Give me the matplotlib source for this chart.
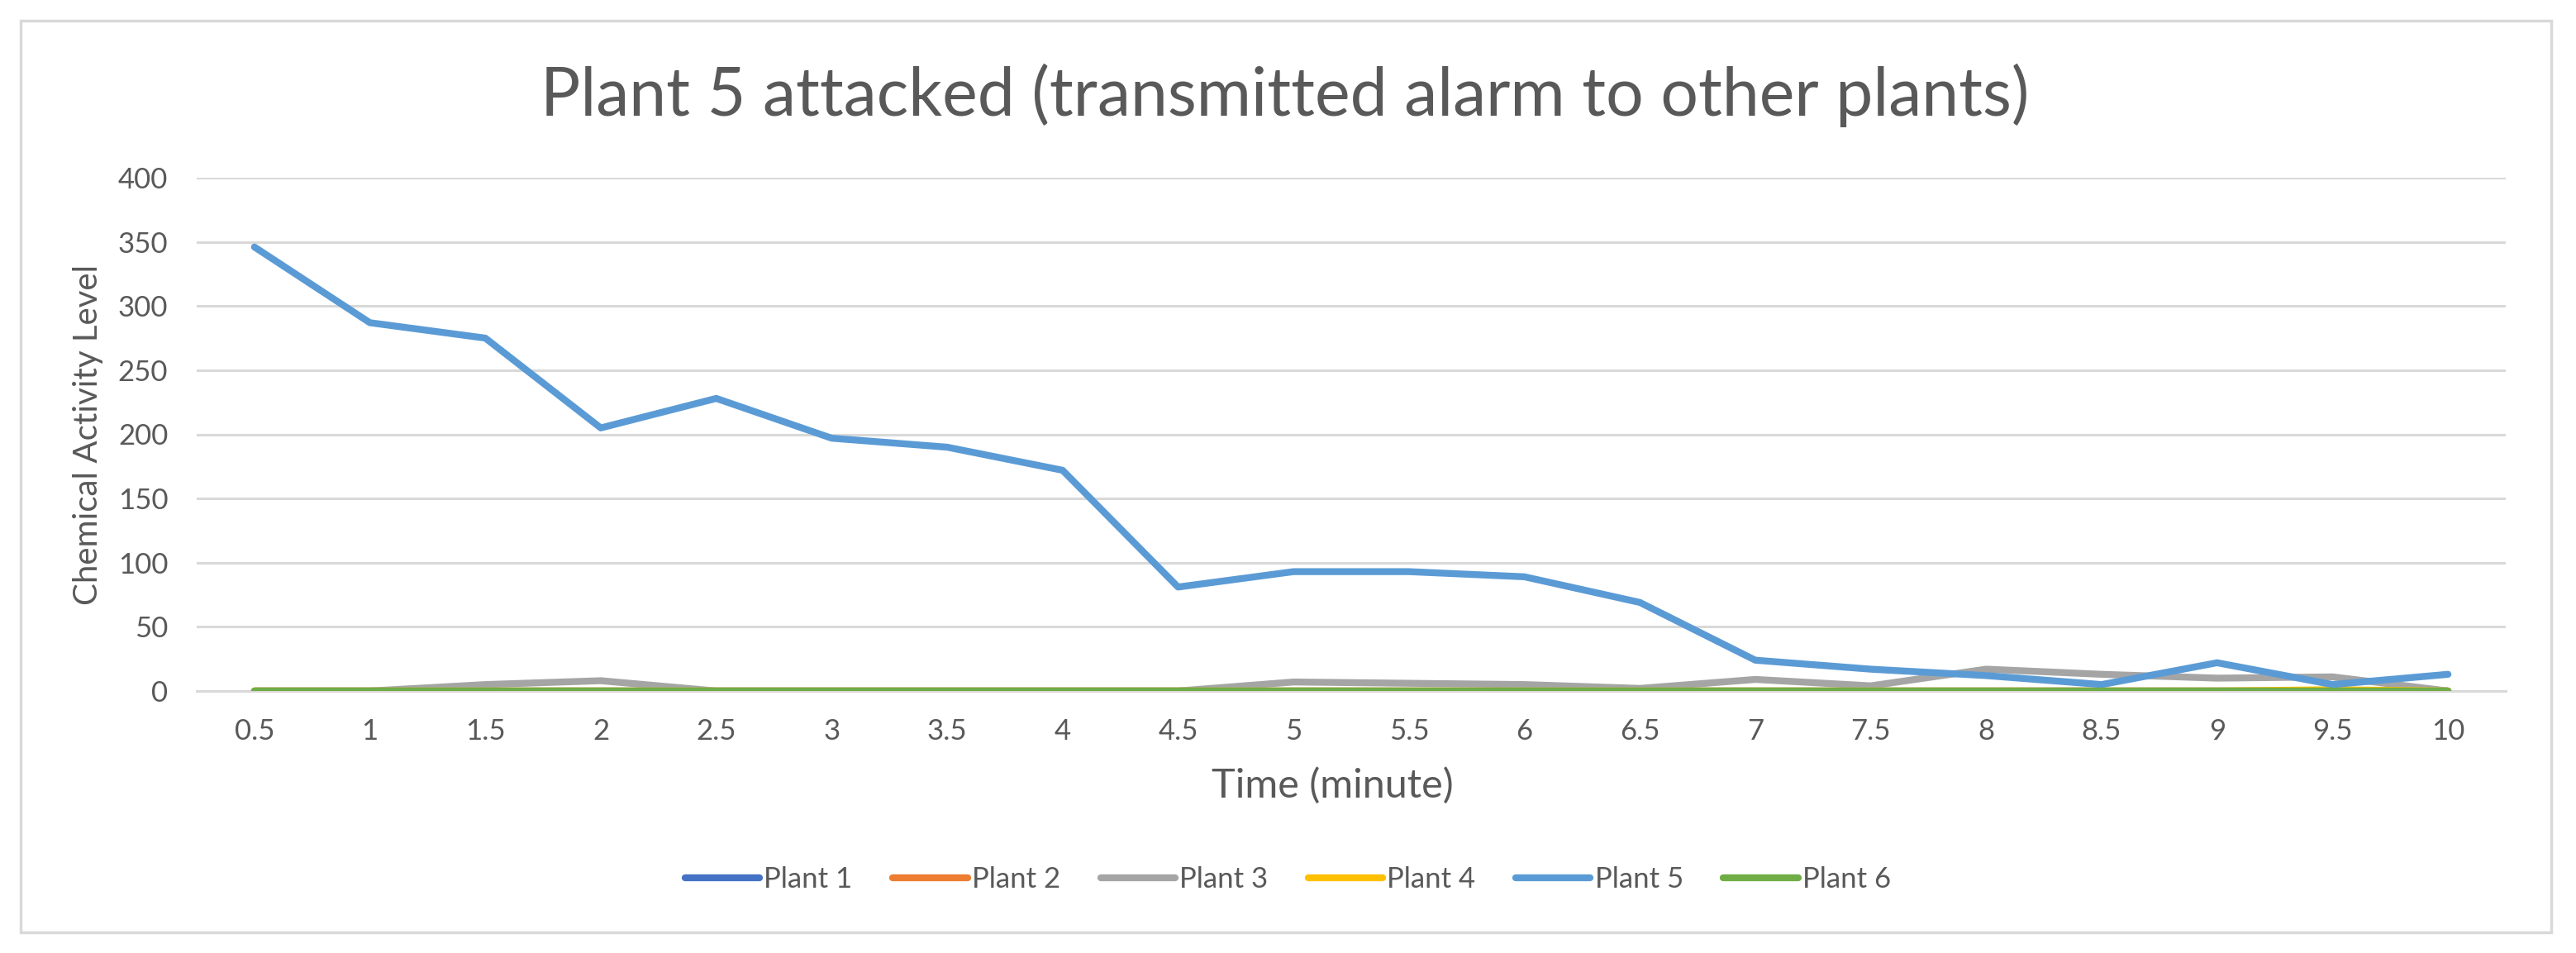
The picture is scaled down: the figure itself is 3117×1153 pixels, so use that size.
import numpy as np
import matplotlib.pyplot as plt
from matplotlib.patches import Rectangle

plt.rcParams['font.family'] = ['Lato', 'DejaVu Sans']

# ── Data ──────────────────────────────────────────────────────────────────────
time_labels = ["0.5", "1", "1.5", "2", "2.5", "3", "3.5", "4", "4.5", "5",
               "5.5", "6", "6.5", "7", "7.5", "8", "8.5", "9", "9.5", "10"]

plant1 = [0] * 20
plant2 = [0] * 20
plant3 = [0, 0, 5, 8, 0, 0, 0, 0, 0, 7, 6, 5, 2, 9, 4, 17, 13, 10, 11, 0]
plant4 = [0, 0, 0, 0, 0, 0, 0, 0, 0, 0, 0, 0, 0, 0, 0, 0, 0, 0, 1, 0]
plant5 = [346, 287, 275, 205, 228, 197, 190, 172, 81, 93, 93, 89, 69, 24,
          17, 12, 5, 22, 5, 13]
plant6 = [0] * 20

series_names = ["Plant 1", "Plant 2", "Plant 3", "Plant 4", "Plant 5", "Plant 6"]
series_colors = ["#4472C4", "#ED7D31", "#A5A5A5", "#FFC000", "#5B9BD5", "#70AD47"]

text_col = "#595959"
grid_col = "#D9D9D9"

# ── Figure ────────────────────────────────────────────────────────────────────
W, H = 3117, 1153
fig = plt.figure(figsize=(W / 100, H / 100), dpi=100)
ax = fig.add_axes([238 / W, 1 - 836 / H, (3032 - 238) / W, (836 - 215) / H])

x = np.arange(len(time_labels))
for vals, name, col in zip([plant1, plant2, plant3, plant4, plant5, plant6],
                           series_names, series_colors):
    ax.plot(x, vals, color=col, lw=6, label=name,
            solid_capstyle="round", solid_joinstyle="round", zorder=3)

ax.set_xlim(-0.5, len(time_labels) - 0.5)
ax.set_ylim(0, 400)
ax.set_yticks(np.arange(0, 401, 50))
ax.set_xticks(x)
ax.set_xticklabels(time_labels)
ax.grid(axis="y", color=grid_col, lw=2.2, zorder=0)
ax.set_axisbelow(True)

for s in ["top", "right", "left"]:
    ax.spines[s].set_visible(False)
ax.spines["bottom"].set_color(grid_col)
ax.spines["bottom"].set_linewidth(2.2)

ax.tick_params(axis="both", length=0, labelsize=25, labelcolor=text_col)
ax.tick_params(axis="x", pad=24)
ax.tick_params(axis="y", pad=25)

ax.set_xlabel("Time (minute)", fontsize=35, color=text_col)
ax.xaxis.set_label_coords((1612 - 238) / 2794, (836 - 950) / 621)
ax.xaxis.label.set_va("center")
ax.set_ylabel("Chemical Activity Level", fontsize=29, color=text_col)
ax.yaxis.set_label_coords((107 - 238) / 2794, 0.5)
ax.yaxis.label.set_va("center")

fig.text(1555 / W, 1 - 140 / H, "Plant 5 attacked (transmitted alarm to other plants)",
         ha="center", va="baseline", fontsize=58, color=text_col, fontweight="normal")

handles, labels = ax.get_legend_handles_labels()
fig.legend(handles, labels, loc="center", bbox_to_anchor=(0.5, 1 - 1064 / H),
           ncol=6, frameon=False, fontsize=25, labelcolor=text_col,
           handlelength=2.6, handletextpad=0.15, columnspacing=1.4)

# chart border
fig.patches.append(Rectangle((25 / W, 25 / H), (3087 - 25) / W, (1128 - 25) / H,
                             transform=fig.transFigure, fill=False,
                             edgecolor=grid_col, lw=2.5))

fig.savefig("out.png", dpi=100)
